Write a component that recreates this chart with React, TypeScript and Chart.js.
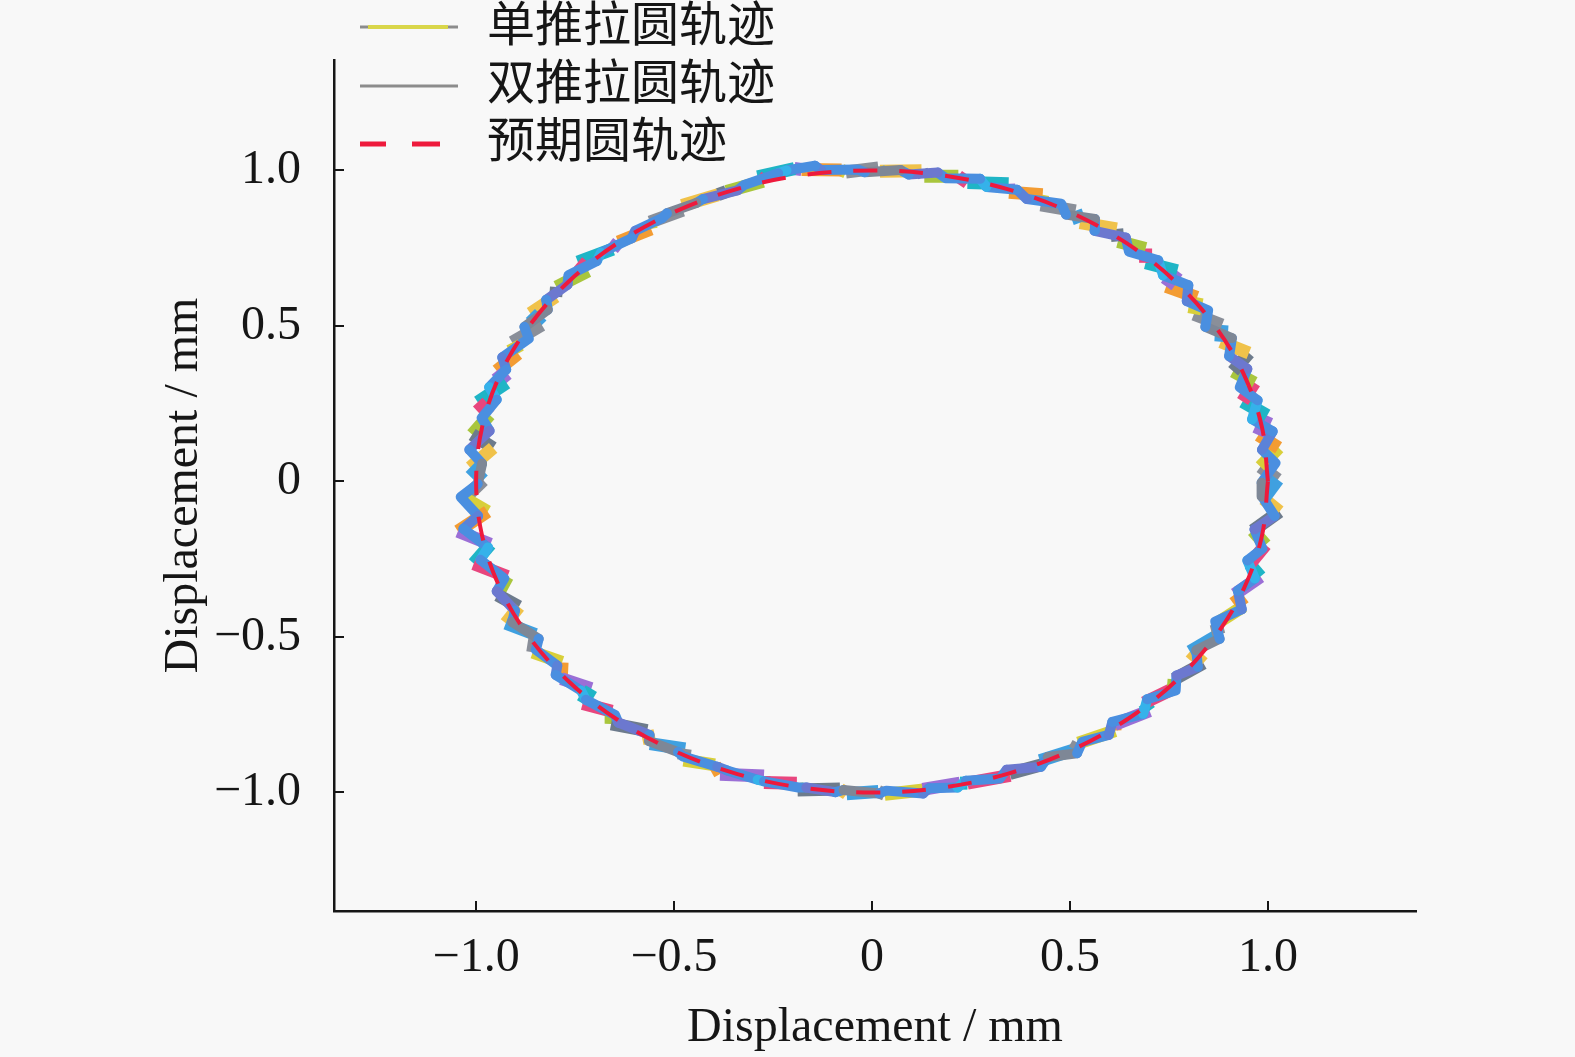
import React, { useEffect, useRef } from 'react';
import { Chart, registerables } from 'chart.js';

Chart.register(...registerables);

// ---- tick values / labels ----
const xTickValues = [-1, -0.5, 0, 0.5, 1];
const xTickLabels = ['\u22121.0', '\u22120.5', '0', '0.5', '1.0'];
const yTickValues = [-1, -0.5, 0, 0.5, 1];
const yTickLabels = ['\u22121.0', '\u22120.5', '0', '0.5', '1.0'];
const axisTitle = 'Displacement / mm';
const seriesLabels = ['单推拉圆轨迹', '双推拉圆轨迹', '预期圆轨迹'];

// ---- measured trajectory: single push-pull ----
const singleX = [
  1.025, 0.981, 1.027, 0.976, 0.998, 0.936, 0.966, 0.912, 0.952, 0.881,
  0.884, 0.813, 0.821, 0.743, 0.771, 0.691, 0.691, 0.621, 0.618, 0.525,
  0.514, 0.426, 0.431, 0.346, 0.345, 0.241, 0.218, 0.132, 0.125, 0.020,
  0.016,
  -0.066, -0.077, -0.178, -0.196, -0.289, -0.275, -0.368, -0.389, -0.480, -0.478,
  -0.561, -0.558, -0.641, -0.655, -0.743, -0.717, -0.797, -0.799, -0.863, -0.834,
  -0.909, -0.894, -0.948, -0.923, -0.996, -0.966, -1.010, -0.957, -1.015, -0.982,
  -1.029, -0.971, -1.046, -0.964, -1.006, -0.921, -0.946, -0.892, -0.925, -0.850,
  -0.857, -0.783, -0.785, -0.709, -0.731, -0.657, -0.659, -0.568, -0.561, -0.472,
  -0.476, -0.397, -0.384, -0.273, -0.273, -0.190, -0.188, -0.081, -0.064, 0.016,
  0.032, 0.135, 0.128, 0.222, 0.241, 0.349, 0.348, 0.429, 0.424, 0.512,
  0.521, 0.614, 0.613, 0.701, 0.687, 0.761, 0.763, 0.837, 0.803, 0.876,
  0.869, 0.938, 0.916, 0.981, 0.954, 0.994, 0.962, 1.029, 0.989, 1.025,
];
const singleY = [
  0.006, 0.047, 0.108, 0.149, 0.212, 0.257, 0.317, 0.354, 0.413, 0.449,
  0.503, 0.538, 0.592, 0.627, 0.677, 0.703, 0.749, 0.772, 0.812, 0.832,
  0.870, 0.889, 0.922, 0.930, 0.957, 0.961, 0.981, 0.981, 0.999, 0.997,
  1.008,
  0.995, 1.001, 1.003, 1.006, 0.979, 0.965, 0.932, 0.922, 0.887, 0.872,
  0.834, 0.812, 0.770, 0.747, 0.705, 0.677, 0.625, 0.594, 0.540, 0.503,
  0.447, 0.411, 0.356, 0.317, 0.255, 0.214, 0.151, 0.108, 0.045, 0.004,
  -0.054, -0.097, -0.160, -0.202, -0.264, -0.306, -0.365, -0.403, -0.456, -0.492,
  -0.549, -0.582, -0.634, -0.666, -0.714, -0.739, -0.779, -0.801, -0.843, -0.860,
  -0.896, -0.911, -0.941, -0.947, -0.968, -0.970, -0.992, -0.989, -1.004, -0.997,
  -1.006, -0.991, -0.990, -0.970, -0.970, -0.945, -0.939, -0.911, -0.898, -0.862,
  -0.841, -0.801, -0.781, -0.737, -0.712, -0.666, -0.636, -0.584, -0.547, -0.492,
  -0.458, -0.401, -0.363, -0.306, -0.266, -0.204, -0.158, -0.097, -0.056, 0.006,
];

// ---- measured trajectory: double push-pull ----
const doubleX = [
  0.984, 1.019, 0.985, 1.012, 0.960, 0.974, 0.929, 0.948, 0.902, 0.909,
  0.842, 0.849, 0.795, 0.799, 0.735, 0.723, 0.649, 0.641, 0.562, 0.563,
  0.490, 0.478, 0.391, 0.366, 0.289, 0.273, 0.186, 0.166, 0.093, 0.072,
  -0.018,
  -0.036, -0.129, -0.144, -0.216, -0.237, -0.323, -0.340, -0.427, -0.444, -0.518,
  -0.531, -0.598, -0.607, -0.685, -0.695, -0.767, -0.769, -0.823, -0.819, -0.878,
  -0.867, -0.934, -0.924, -0.967, -0.948, -0.986, -0.966, -1.017, -0.985, -0.996,
  -1.039, -0.995, -1.032, -0.970, -0.989, -0.929, -0.948, -0.902, -0.909, -0.842,
  -0.849, -0.795, -0.799, -0.735, -0.723, -0.649, -0.641, -0.562, -0.563, -0.490,
  -0.478, -0.391, -0.366, -0.289, -0.273, -0.186, -0.166, -0.093, -0.072, 0.018,
  0.036, 0.129, 0.144, 0.216, 0.237, 0.323, 0.340, 0.427, 0.444, 0.518,
  0.531, 0.598, 0.607, 0.685, 0.695, 0.767, 0.769, 0.823, 0.819, 0.878,
  0.867, 0.934, 0.924, 0.967, 0.948, 0.986, 0.966, 1.017, 0.985, 0.984,
];
const doubleY = [
  -0.004, 0.059, 0.102, 0.161, 0.200, 0.261, 0.303, 0.362, 0.403, 0.461,
  0.497, 0.550, 0.580, 0.631, 0.663, 0.711, 0.739, 0.784, 0.806, 0.844,
  0.858, 0.893, 0.908, 0.938, 0.947, 0.973, 0.975, 0.993, 0.987, 1.001,
  0.994,
  1.003, 1.001, 1.015, 1.000, 0.991, 0.953, 0.936, 0.908, 0.895, 0.862,
  0.846, 0.806, 0.782, 0.735, 0.709, 0.663, 0.633, 0.584, 0.552, 0.497,
  0.459, 0.399, 0.360, 0.303, 0.263, 0.204, 0.163, 0.102, 0.057, -0.008,
  -0.050, -0.111, -0.152, -0.212, -0.252, -0.312, -0.353, -0.415, -0.452, -0.506,
  -0.541, -0.592, -0.622, -0.672, -0.702, -0.751, -0.775, -0.815, -0.835, -0.870,
  -0.884, -0.917, -0.929, -0.959, -0.964, -0.984, -0.984, -0.999, -0.992, -1.003,
  -0.994, -1.003, -0.986, -0.984, -0.962, -0.955, -0.927, -0.917, -0.886, -0.874,
  -0.837, -0.815, -0.773, -0.747, -0.700, -0.672, -0.624, -0.596, -0.543, -0.506,
  -0.450, -0.411, -0.351, -0.312, -0.254, -0.216, -0.154, -0.111, -0.048, -0.004,
];

// ---- expected circle ----
const expectedX = [
  1, 0.985, 0.940, 0.866, 0.766, 0.643, 0.5, 0.342, 0.174, 0,
  -0.174, -0.342, -0.5, -0.643, -0.766, -0.866, -0.940, -0.985, -1,
  -0.985, -0.940, -0.866, -0.766, -0.643, -0.5, -0.342, -0.174, 0,
  0.174, 0.342, 0.5, 0.643, 0.766, 0.866, 0.940, 0.985, 1,
];
const expectedY = [
  0, 0.174, 0.342, 0.5, 0.643, 0.766, 0.866, 0.940, 0.985, 1,
  0.985, 0.940, 0.866, 0.766, 0.643, 0.5, 0.342, 0.174, 0,
  -0.174, -0.342, -0.5, -0.643, -0.766, -0.866, -0.940, -0.985, -1,
  -0.985, -0.940, -0.866, -0.766, -0.643, -0.5, -0.342, -0.174, 0,
];

// ---- styling ----
const BG = '#f8f8f8';
const INK = '#161616';
const singlePalette = ['#8a8f99', '#d8cf3a', '#f39c33', '#9b6fd6', '#1fb5c6', '#e8467e', '#a9c63d', '#6d7b8c', '#f0c24a', '#3fa0e0'];
const doublePalette = ['#4a8fe0', '#4a8fe0', '#5b82d8', '#4a8fe0', '#35b2ea', '#4a8fe0', '#4a8fe0', '#6c78cf', '#4a8fe0', '#7e8796'];
const expectedColor = '#ee1a3c';
const latinFont = "'Liberation Serif', 'Times New Roman', serif";
const cjkFont = "'Noto Sans CJK SC', sans-serif";

const toPoints = (xs: number[], ys: number[]) => xs.map((x, i) => ({ x, y: ys[i] }));

const innerTicksPlugin = {
  id: 'innerTicks',
  afterDraw(chart: any) {
    const { ctx, chartArea, scales } = chart;
    ctx.save();
    ctx.strokeStyle = INK;
    ctx.lineWidth = 2;
    xTickValues.forEach((v) => {
      const px = Math.round(scales.x.getPixelForValue(v));
      ctx.beginPath();
      ctx.moveTo(px, chartArea.bottom);
      ctx.lineTo(px, chartArea.bottom - 10);
      ctx.stroke();
    });
    yTickValues.forEach((v) => {
      const py = Math.round(scales.y.getPixelForValue(v));
      ctx.beginPath();
      ctx.moveTo(chartArea.left, py);
      ctx.lineTo(chartArea.left + 10, py);
      ctx.stroke();
    });
    ctx.restore();
  },
};

const legendPlugin = {
  id: 'cornerLegend',
  afterDraw(chart: any) {
    const ctx = chart.ctx;
    ctx.save();
    ctx.lineCap = 'butt';
    // row 1: single push-pull
    ctx.strokeStyle = '#8c8c8c';
    ctx.lineWidth = 3;
    ctx.beginPath(); ctx.moveTo(360, 27); ctx.lineTo(458, 27); ctx.stroke();
    ctx.strokeStyle = '#d9d64a';
    ctx.lineWidth = 4;
    ctx.beginPath(); ctx.moveTo(368, 27); ctx.lineTo(448, 27); ctx.stroke();
    // row 2: double push-pull
    ctx.strokeStyle = '#8c8c8c';
    ctx.lineWidth = 3;
    ctx.beginPath(); ctx.moveTo(360, 86); ctx.lineTo(458, 86); ctx.stroke();
    // row 3: expected (dashed)
    ctx.strokeStyle = expectedColor;
    ctx.lineWidth = 5;
    ctx.beginPath(); ctx.moveTo(360, 144); ctx.lineTo(386, 144); ctx.stroke();
    ctx.beginPath(); ctx.moveTo(412, 144); ctx.lineTo(440, 144); ctx.stroke();
    // texts
    ctx.fillStyle = INK;
    ctx.font = `48px ${cjkFont}`;
    ctx.textBaseline = 'middle';
    ctx.textAlign = 'left';
    ctx.fillText(seriesLabels[0], 487, 23);
    ctx.fillText(seriesLabels[1], 487, 81);
    ctx.fillText(seriesLabels[2], 487, 139);
    ctx.restore();
  },
};

export default function App() {
  const canvasRef = useRef<HTMLCanvasElement | null>(null);

  useEffect(() => {
    document.body.style.margin = '0';
    document.body.style.background = BG;
    const canvas = canvasRef.current;
    if (!canvas) return;

    const chart = new Chart(canvas, {
      type: 'scatter',
      data: {
        datasets: [
          {
            label: seriesLabels[0],
            data: toPoints(singleX, singleY),
            showLine: true,
            borderColor: '#d9d64a',
            borderWidth: 13,
            borderCapStyle: 'butt',
            pointRadius: 0,
            tension: 0,
            order: 3,
            segment: {
              borderColor: (c: any) => singlePalette[c.p0DataIndex % singlePalette.length],
            },
          },
          {
            label: seriesLabels[1],
            data: toPoints(doubleX, doubleY),
            showLine: true,
            borderColor: '#8c8c8c',
            borderWidth: 10,
            borderCapStyle: 'round',
            borderJoinStyle: 'round',
            pointRadius: 0,
            tension: 0,
            order: 2,
            segment: {
              borderColor: (c: any) => doublePalette[c.p0DataIndex % doublePalette.length],
            },
          },
          {
            label: seriesLabels[2],
            data: toPoints(expectedX, expectedY),
            showLine: true,
            borderColor: expectedColor,
            borderWidth: 4,
            borderDash: [24, 22],
            pointRadius: 0,
            tension: 0.35,
            order: 1,
          },
        ],
      },
      options: {
        animation: false,
        responsive: false,
        maintainAspectRatio: false,
        devicePixelRatio: 1,
        layout: { padding: { top: 60, right: 159, left: 0, bottom: 0 } },
        plugins: {
          legend: { display: false },
          tooltip: { enabled: false },
          title: { display: false },
        },
        scales: {
          x: {
            type: 'linear',
            min: -1.359,
            max: 1.374,
            afterBuildTicks: (s: any) => {
              s.ticks = xTickValues.map((v) => ({ value: v }));
            },
            afterFit: (s: any) => {
              s.height = 146;
            },
            ticks: {
              color: INK,
              font: { family: latinFont, size: 48 },
              padding: 11,
              maxRotation: 0,
              autoSkip: false,
              callback: (_v: any, i: number) => xTickLabels[i],
            },
            grid: { display: false },
            border: { display: true, color: INK, width: 2.5 },
            title: {
              display: true,
              text: axisTitle,
              color: INK,
              font: { family: latinFont, size: 48 },
              padding: { top: 0, bottom: 0 },
            },
          },
          y: {
            type: 'linear',
            min: -1.381,
            max: 1.355,
            afterBuildTicks: (s: any) => {
              s.ticks = yTickValues.map((v) => ({ value: v }));
            },
            afterFit: (s: any) => {
              s.width = 334;
            },
            ticks: {
              color: INK,
              font: { family: latinFont, size: 48 },
              padding: 25,
              autoSkip: false,
              callback: (_v: any, i: number) => yTickLabels[i],
            },
            grid: { display: false },
            border: { display: true, color: INK, width: 2.5 },
            title: {
              display: true,
              text: axisTitle,
              color: INK,
              font: { family: latinFont, size: 48 },
              padding: { top: 156, bottom: 0 },
            },
          },
        },
      } as any,
      plugins: [innerTicksPlugin, legendPlugin],
    });

    return () => {
      chart.destroy();
    };
  }, []);

  return (
    <div style={{ width: 1575, height: 1057, background: BG }}>
      <canvas ref={canvasRef} width={1575} height={1057} style={{ display: 'block', width: 1575, height: 1057 }} />
    </div>
  );
}
